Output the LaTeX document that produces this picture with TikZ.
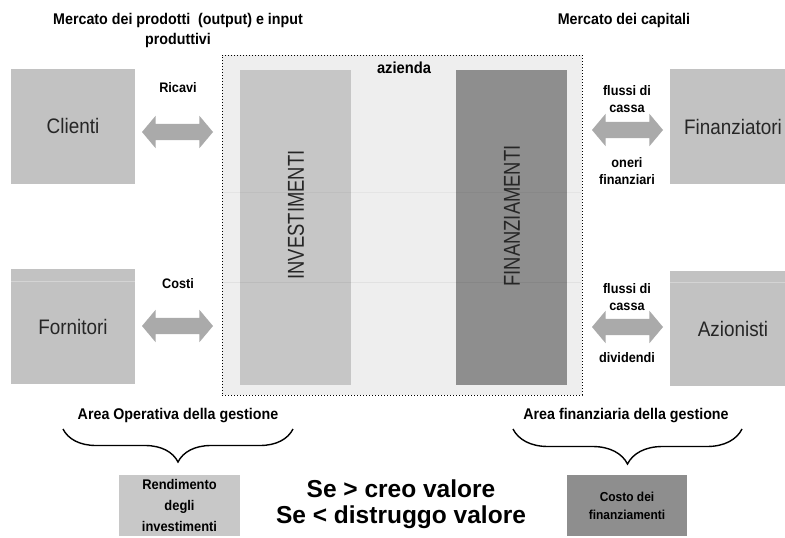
\documentclass[tikz,border=0pt]{standalone}
\usepackage{fontspec}
\setmainfont{Liberation Sans}
\newfontfamily\narf[FakeStretch=0.9]{Liberation Sans}
\newfontfamily\narr[FakeStretch=0.8]{Liberation Sans}
\newfontfamily\narh[FakeStretch=0.92]{Liberation Sans}
\usetikzlibrary{shapes.arrows,decorations.pathreplacing}
\definecolor{boxgray}{HTML}{C2C2C2}
\definecolor{invgray}{HTML}{C6C6C6}
\definecolor{fingray}{HTML}{8E8E8E}
\definecolor{arrgray}{HTML}{AAAAAA}
\definecolor{azbg}{HTML}{EEEEEE}
\definecolor{rendgray}{HTML}{C8C8C8}
\tikzset{
  party/.style={fill=boxgray, minimum width=124pt, minimum height=115pt, inner sep=0pt,
    font=\narf\fontsize{21}{21}\selectfont, text=black!85},
  colbox/.style={minimum width=111pt, minimum height=315pt, inner sep=0pt},
  coltext/.style={rotate=90, font=\narr\fontsize{23}{23}\selectfont, text=black!85, inner sep=0pt},
  lab/.style={font=\narh\bfseries\fontsize{13.8}{17}\selectfont, align=center, inner sep=0pt},
  head/.style={font=\narh\bfseries\fontsize{15.5}{20}\selectfont, align=center, inner sep=0pt},
  flow/.style={double arrow, fill=arrgray, draw=none, minimum width=32pt, minimum height=71pt,
    double arrow head extend=8pt, double arrow tip angle=100, inner xsep=0pt, inner ysep=8pt},
  bigtext/.style={font=\bfseries\fontsize{24.5}{26}\selectfont, anchor=base, inner sep=0pt},
  curly/.style={decorate, line width=1.4pt, decoration={brace, mirror, amplitude=#1}},
  result/.style={minimum width=121pt, minimum height=61pt, inner sep=0pt, align=center,
    font=\bfseries\fontsize{12.5}{20}\selectfont}
}
\begin{document}
\begin{tikzpicture}[x=1pt,y=-1pt]
\fill[white] (0,0) rectangle (785,538);
\useasboundingbox (0,0) rectangle (785,538);

% headers
\node[head] (hleft) at (178,30) {Mercato dei prodotti \ (output) e input\\produttivi};
\node[head] (hright) at (624,20) {Mercato dei capitali};

% azienda
\node[fill=azbg, draw=black, dotted, line width=1pt, minimum width=360pt, minimum height=340pt, inner sep=0pt] (az) at (402,225) {};
\node[colbox, fill=invgray] (inv) at (295.5,227.5) {};
\node[colbox, fill=fingray] (fin) at (511.5,227.5) {};
\draw[black, opacity=0.04, line width=1pt] (223,192) -- (581,192);
\draw[black, opacity=0.05, line width=1pt] (223,282) -- (581,282);
\node[coltext] (invt) at (296,215) {INVESTIMENTI};
\node[coltext] (fint) at (512,216) {FINANZIAMENTI};
\node[font=\narh\bfseries\fontsize{16}{16}\selectfont, inner sep=0pt] (azl) at (404,68) {azienda};

% parties
\node[party] (cli) at (73,126) {Clienti};
\node[party] (forn) at (73,326.5) {Fornitori};
\node[party, minimum width=126pt] (fnz) at (733,126.5) {Finanziatori};
\node[party, minimum width=126pt] (azi) at (733,328.5) {Azionisti};
\draw[white, opacity=0.3, line width=1pt] (forn.north west |- 0,281) -- (forn.north east |- 0,281);
\draw[white, opacity=0.3, line width=1pt] (azi.north west |- 0,282) -- (azi.north east |- 0,282);

% flows
\node[flow] (fr) at (177.5,132) {};
\node[flow] (fc) at (177.5,326) {};
\node[flow] (ff) at (627.5,130) {};
\node[flow] (fa) at (627.5,327) {};

\node[lab] (lr) at (178,88) {Ricavi};
\node[lab] (lc) at (178,284) {Costi};
\node[lab] (lf1) at (627,99.5) {flussi di\\cassa};
\node[lab] (lf2) at (627,171) {oneri\\finanziari};
\node[lab] (la1) at (627,297) {flussi di\\cassa};
\node[lab] (la2) at (627,358) {dividendi};

% bottom
\node[head] (aop) at (178,416) {Area Operativa della gestione};
\node[head] (afi) at (626,416) {Area finanziaria della gestione};
\draw[curly=33pt] (63,429) -- (293,429);
\draw[curly=35pt] (513,429) -- (742,429);

\node[result, fill=rendgray, font=\narh\bfseries\fontsize{14}{21}\selectfont] (rend) at (179.5,505.5) {Rendimento\\degli\\investimenti};
\node[result, fill=fingray, minimum width=120pt, font=\narh\bfseries\fontsize{13}{18}\selectfont] (cost) at (627,505.5) {Costo dei\\finanziamenti};

\node[bigtext] (se1) at (401,497) {Se > creo valore};
\node[bigtext] (se2) at (401,523) {Se < distruggo valore};
\end{tikzpicture}
\end{document}
